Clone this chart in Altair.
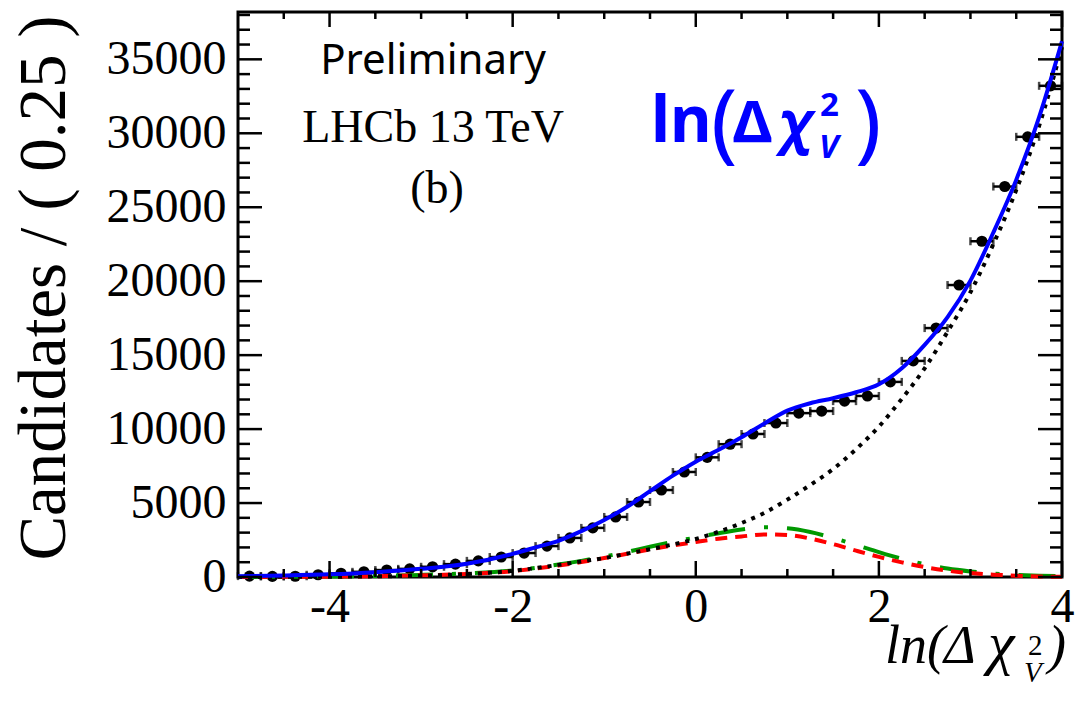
import altair as alt
import pandas as pd

# ---------------- data ----------------
bin_x = [-4.875, -4.625, -4.375, -4.125, -3.875, -3.625, -3.375, -3.125,
         -2.875, -2.625, -2.375, -2.125, -1.875, -1.625, -1.375, -1.125,
         -0.875, -0.625, -0.375, -0.125, 0.125, 0.375, 0.625, 0.875,
         1.125, 1.375, 1.625, 1.875, 2.125, 2.375, 2.625, 2.875,
         3.125, 3.375, 3.625, 3.875]
counts = [60, 40, 50, 150, 250, 350, 470, 550,
          690, 870, 1090, 1350, 1620, 2090, 2640, 3320,
          4060, 5070, 5880, 7100, 8090, 8980, 9670, 10410,
          11080, 11220, 11890, 12240, 13190, 14610, 16830, 19740,
          22700, 26400, 29760, 33210]
half_bin = 0.125

curve_x = [-5, -4.5, -4, -3.5, -3, -2.5, -2, -1.75, -1.5, -1.25, -1, -0.75, -0.5, -0.25,
           0, 0.25, 0.5, 0.75, 1, 1.25, 1.5, 1.75, 2, 2.25, 2.5, 2.75, 3, 3.25, 3.5, 3.75, 4]
total_fit = [50, 100, 180, 325, 550, 900, 1560, 2000, 2450, 3100, 3850, 4750, 5800, 6850,
             7800, 8600, 9450, 10380, 11250, 11750, 12090, 12490, 13030, 14110, 15690,
             17570, 20040, 23290, 26850, 31090, 36220]
background = [0, 10, 20, 45, 90, 200, 415, 600, 820, 1050, 1280, 1580, 1880, 2200,
              2570, 3060, 3650, 4340, 5230, 6220, 7300, 8640, 10170, 12040, 14110,
              16580, 19250, 22500, 26160, 30500, 35830]
comp_green = [5, 15, 35, 70, 140, 245, 445, 620, 840, 1090, 1380, 1700, 2050, 2380,
              2670, 2960, 3210, 3360, 3290, 3040, 2640, 2170, 1680, 1230, 860,
              570, 375, 235, 150, 90, 60]
comp_red = [5, 12, 25, 55, 110, 205, 395, 570, 770, 1010, 1280, 1570, 1860, 2130,
            2370, 2590, 2740, 2880, 2840, 2600, 2220, 1780, 1360, 990, 670,
            425, 265, 160, 90, 40, 15]

x_major = [-4, -2, 0, 2, 4]
x_minor = [-4.5, -3.5, -3, -2.5, -1.5, -1, -0.5, 0.5, 1, 1.5, 2.5, 3, 3.5]
y_major = [0, 5000, 10000, 15000, 20000, 25000, 30000, 35000]
y_minor = [1000, 2000, 3000, 4000, 6000, 7000, 8000, 9000, 11000, 12000, 13000, 14000,
           16000, 17000, 18000, 19000, 21000, 22000, 23000, 24000, 26000, 27000, 28000,
           29000, 31000, 32000, 33000, 34000, 36000, 37000, 38000]

X_DOMAIN = [-5, 4]
Y_DOMAIN = [0, 38200]
W, H = 824, 565

pts = pd.DataFrame({"x": bin_x, "y": counts})
curves = pd.DataFrame({"x": curve_x, "total": total_fit, "bkg": background,
                       "green": comp_green, "red": comp_red})
one_row = pd.DataFrame({"k": [0]})

SERIF = "Liberation Serif"
xscale = alt.Scale(domain=X_DOMAIN, nice=False, zero=False)
yscale = alt.Scale(domain=Y_DOMAIN, nice=False, zero=False)
xaxis = alt.Axis(values=x_major, title=None, ticks=False, domain=False, grid=False,
                 labelFont=SERIF, labelFontSize=48, labelColor="black", labelPadding=6,
                 labelExpr="'' + datum.value", labelFlush=False, labelOverlap=False)
yaxis = alt.Axis(values=y_major, title=None, ticks=False, domain=False, grid=False,
                 labelFont=SERIF, labelFontSize=48, labelColor="black", labelPadding=12,
                 labelExpr="'' + datum.value", labelFlush=False, labelOverlap=False)

def X(field):
    return alt.X(field, type="quantitative", scale=xscale, axis=xaxis)

def Y(field):
    return alt.Y(field, type="quantitative", scale=yscale, axis=yaxis)

base_pts = alt.Chart(pts).transform_calculate(
    xlo=f"datum.x - {half_bin}", xhi=f"datum.x + {half_bin}")

err_h = base_pts.mark_rule(color="black", strokeWidth=2.5).encode(
    x=X("xlo"), x2="xhi", y=Y("y"))
cap_lo = base_pts.mark_tick(color="black", orient="vertical", size=8, thickness=2.5).encode(
    x=X("xlo"), y=Y("y"))
cap_hi = base_pts.mark_tick(color="black", orient="vertical", size=8, thickness=2.5).encode(
    x=X("xhi"), y=Y("y"))
dots = alt.Chart(pts).mark_circle(color="black", size=125, opacity=1).encode(
    x=X("x"), y=Y("y"))

base_c = alt.Chart(curves)
line_green = base_c.mark_line(color="#009900", strokeWidth=4, strokeDash=[37, 19, 4, 19],
                              interpolate="monotone").encode(x=X("x"), y=Y("green"))
line_red = base_c.mark_line(color="#ff0000", strokeWidth=4, strokeDash=[12, 8],
                            interpolate="monotone").encode(x=X("x"), y=Y("red"))
line_bkg = base_c.mark_line(color="black", strokeWidth=4, strokeDash=[4, 6],
                            interpolate="monotone").encode(x=X("x"), y=Y("bkg"))
line_tot = base_c.mark_line(color="#0000ff", strokeWidth=4,
                            interpolate="monotone").encode(x=X("x"), y=Y("total"))

# inward ticks on all four sides
yt_major = pd.DataFrame({"v": y_major})
yt_minor = pd.DataFrame({"v": y_minor})
xt_major = pd.DataFrame({"v": x_major})
xt_minor = pd.DataFrame({"v": x_minor})
TK = dict(color="black", strokeWidth=2.5)
ticks = [
    alt.Chart(yt_major).mark_rule(**TK).encode(y=Y("v"), x=alt.value(0), x2=alt.value(24)),
    alt.Chart(yt_major).mark_rule(**TK).encode(y=Y("v"), x=alt.value(W - 24), x2=alt.value(W)),
    alt.Chart(yt_minor).mark_rule(**TK).encode(y=Y("v"), x=alt.value(0), x2=alt.value(12)),
    alt.Chart(yt_minor).mark_rule(**TK).encode(y=Y("v"), x=alt.value(W - 12), x2=alt.value(W)),
    alt.Chart(xt_major).mark_rule(**TK).encode(x=X("v"), y=alt.value(H - 16), y2=alt.value(H)),
    alt.Chart(xt_major).mark_rule(**TK).encode(x=X("v"), y=alt.value(0), y2=alt.value(15)),
    alt.Chart(xt_minor).mark_rule(**TK).encode(x=X("v"), y=alt.value(H - 8), y2=alt.value(H)),
    alt.Chart(xt_minor).mark_rule(**TK).encode(x=X("v"), y=alt.value(0), y2=alt.value(7)),
]

def label(text, x, y, **kw):
    kw.setdefault("align", "left")
    kw.setdefault("baseline", "alphabetic")
    kw.setdefault("color", "black")
    return alt.Chart(one_row).mark_text(text=text, **kw).encode(
        x=alt.value(x), y=alt.value(y))

BLUE = "#0000ff"
texts = [
    label("Preliminary", 195, 62, font="Noto Sans", fontSize=42, align="center"),
    label("LHCb 13 TeV", 195, 130, font=SERIF, fontSize=46, align="center"),
    label("(b)", 199, 191, font=SERIF, fontSize=46, align="center"),
    # blue formula
    label("ln", 413, 130, font="Noto Sans", fontSize=64, fontWeight="bold", color=BLUE),
    label("(", 473, 140, font="Noto Sans", fontSize=88, color=BLUE),
    label("Δ", 495, 130, font="Noto Sans", fontSize=58, fontWeight="bold", color=BLUE),
    label("χ", 541, 130, font="Noto Sans", fontSize=58, fontWeight="bold",
          fontStyle="italic", color=BLUE),
    label("2", 582, 104, font="Noto Sans", fontSize=33, fontWeight="bold", color=BLUE),
    label("V", 581, 146, font="Noto Sans", fontSize=33, fontWeight="bold",
          fontStyle="italic", color=BLUE),
    label(")", 617, 140, font="Noto Sans", fontSize=88, color=BLUE),
    # x-axis title
    label("ln(", 647, 651, font=SERIF, fontSize=54, fontStyle="italic"),
    label("Δ", 706, 651, font=SERIF, fontSize=54, fontStyle="italic"),
    label("χ", 750, 651, font=SERIF, fontSize=60, fontStyle="italic"),
    label("2", 790, 643, font=SERIF, fontSize=29),
    label("V", 786, 670, font=SERIF, fontSize=29, fontStyle="italic"),
    label(")", 810, 651, font=SERIF, fontSize=54, fontStyle="italic"),
    # y-axis title
    label("Candidates / ( 0.25 )", -193, 276, font=SERIF, fontSize=67, angle=270,
          align="center", baseline="middle"),
]

chart = alt.layer(
    err_h, cap_lo, cap_hi, dots,
    line_green, line_red, line_bkg, line_tot,
    *ticks, *texts
).properties(
    width=W, height=H,
    padding={"left": 238, "top": 12, "right": 21, "bottom": 134},
    autosize=alt.AutoSizeParams(type="none"),
    background="white",
).configure_view(stroke="black", strokeWidth=3)

chart.save("out.html", embed_options={"renderer": "svg", "actions": False})
